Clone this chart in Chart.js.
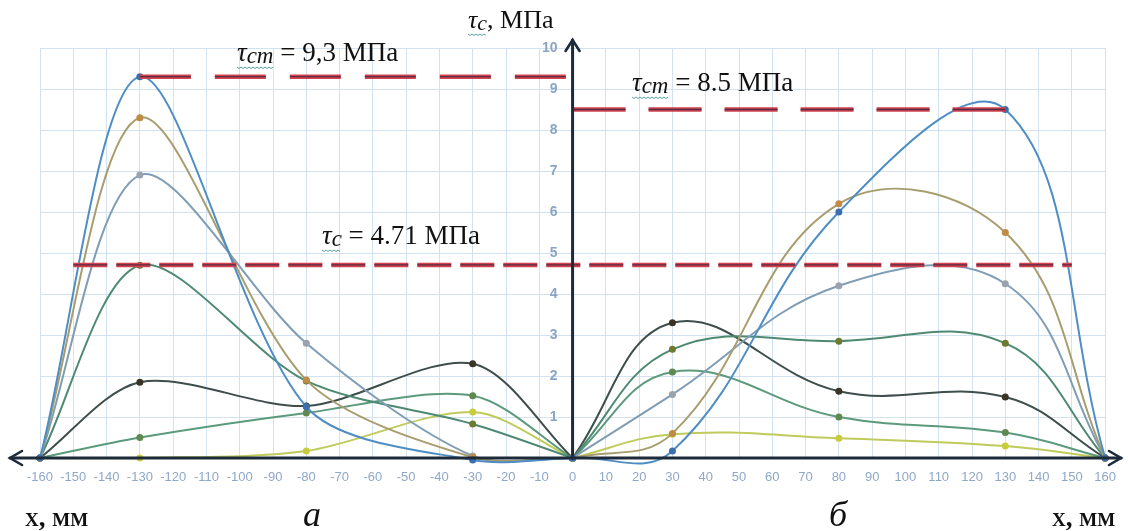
<!DOCTYPE html>
<html>
<head>
<meta charset="utf-8">
<script src="https://cdn.jsdelivr.net/npm/chart.js@4.4.1/dist/chart.umd.min.js"></script>
<style>
  html, body { margin: 0; padding: 0; background: #ffffff; }
  #wrap { width: 1128px; height: 531px; position: relative; }
</style>
</head>
<body>
<div id="wrap"><canvas id="c" width="1128" height="531"></canvas></div>
<script>
// ---------- DATA ----------
const xLeft  = [-160, -130, -80, -30, 0];
const xRight = [0, 30, 80, 130, 160];

const blueL   = [0, 9.3, 1.25, -0.05, 0];
const orangeL = [0, 8.3, 1.9, 0.02, 0];
const grayL   = [0, 6.9, 2.8, 0.05, 0];
const oliveL  = [0, 4.7, 1.88, 0.83, 0];
const brownL  = [0, 1.85, 1.27, 2.3, 0];
const greenL  = [0, 0.5, 1.1, 1.52, 0];
const yellowL = [0, 0, 0.17, 1.12, 0];

const blueR   = [0, 0.17, 6.0, 8.5, 0];
const orangeR = [0, 0.6, 6.2, 5.5, 0];
const grayR   = [0, 1.55, 4.2, 4.25, 0];
const oliveR  = [0, 2.65, 2.85, 2.8, 0];
const brownR  = [0, 3.3, 1.63, 1.49, 0];
const greenR  = [0, 2.1, 1.0, 0.62, 0];
const yellowR = [0, 0.58, 0.48, 0.29, 0];

// reference levels
const tauStLeft  = 9.3;  const tauStLeftRange  = [-130, 0];
const tauStRight = 8.5;  const tauStRightRange = [0, 130];
const tauC       = 4.71; const tauCRange       = [-150, 150];

const xTicks = [-160,-150,-140,-130,-120,-110,-100,-90,-80,-70,-60,-50,-40,-30,-20,-10,0,10,20,30,40,50,60,70,80,90,100,110,120,130,140,150,160];
const yTicks = [1,2,3,4,5,6,7,8,9,10];

// ---------- STYLES ----------
const seriesStyle = [
  { line: '#4f8ec4', point: '#3d6fae' },
  { line: '#a89d6e', point: '#c18a45' },
  { line: '#7f9db5', point: '#9aa3ad' },
  { line: '#4e8a72', point: '#6d7a30' },
  { line: '#3e4e4c', point: '#3a3424' },
  { line: '#5c9a7c', point: '#5e8a50' },
  { line: '#bfcb5a', point: '#c8cc3c' }
];
const leftSeries  = [blueL, orangeL, grayL, oliveL, brownL, greenL, yellowL];
const rightSeries = [blueR, orangeR, grayR, oliveR, brownR, greenR, yellowR];

function pts(xs, ys) { return xs.map((x, i) => ({ x: x, y: ys[i] })); }

function refLine(range, y, dash) {
  return [
    { data: [{x: range[0], y: y}, {x: range[1], y: y}], borderColor: '#5a2c44', borderWidth: 1.3,
      borderDash: dash, pointRadius: 0, fill: false, tension: 0, clip: false },
    { data: [{x: range[0], y: y}, {x: range[1], y: y}], borderColor: '#d2414e', borderWidth: 4.5,
      borderDash: dash, pointRadius: 0, fill: false, tension: 0, clip: false }
  ];
}

const datasets = [];
datasets.push(...refLine(tauStLeftRange, tauStLeft, [51, 24]));
datasets.push(...refLine(tauStRightRange, tauStRight, [53, 23]));
datasets.push(...refLine(tauCRange, tauC, [34, 9]));

function addSeries(xs, list, tension) {
  list.forEach((ys, i) => {
    const s = seriesStyle[i];
    datasets.push({
      data: pts(xs, ys),
      borderColor: s.line,
      borderWidth: 2,
      pointRadius: 3.5,
      pointBackgroundColor: s.point,
      pointBorderColor: s.point,
      pointBorderWidth: 0,
      tension: tension,
      capBezierPoints: false,
      fill: false,
      clip: false
    });
  });
}
addSeries(xLeft, leftSeries, 0.3);
addSeries(xRight, rightSeries, 0.4);

// ---------- PLUGINS ----------
const axesPlugin = {
  id: 'axesArrows',
  afterDatasetsDraw(chart) {
    const ctx = chart.ctx;
    const xs = chart.scales.x, ys = chart.scales.y;
    const y0 = ys.getPixelForValue(0);
    const x0 = xs.getPixelForValue(0);
    ctx.save();
    ctx.strokeStyle = '#1c2a3a';
    ctx.lineWidth = 3;
    ctx.lineCap = 'round';
    ctx.beginPath();
    ctx.moveTo(10, y0); ctx.lineTo(1121, y0);
    ctx.stroke();
    ctx.lineWidth = 2.6;
    ctx.beginPath();
    ctx.moveTo(22, y0 - 7); ctx.lineTo(10, y0); ctx.lineTo(22, y0 + 7);
    ctx.moveTo(1109, y0 - 7); ctx.lineTo(1121, y0); ctx.lineTo(1109, y0 + 7);
    ctx.stroke();
    ctx.lineWidth = 3;
    ctx.beginPath();
    ctx.moveTo(x0, y0); ctx.lineTo(x0, 40);
    ctx.stroke();
    ctx.lineWidth = 2.6;
    ctx.beginPath();
    ctx.moveTo(x0 - 7, 51); ctx.lineTo(x0, 40); ctx.lineTo(x0 + 7, 51);
    ctx.stroke();

    // y tick labels (left of the central axis)
    ctx.fillStyle = '#8aa4c4';
    ctx.font = 'bold 14px "Liberation Sans"';
    ctx.textAlign = 'right';
    ctx.textBaseline = 'middle';
    yTicks.forEach(v => ctx.fillText(String(v), x0 - 15, ys.getPixelForValue(v)));
    ctx.restore();
  },
  afterDraw(chart) {
    const ctx = chart.ctx;
    ctx.save();
    ctx.fillStyle = '#111111';
    ctx.textBaseline = 'alphabetic';
    function tauLabel(x, y, sub, rest, size) {
      ctx.font = 'italic ' + size + 'px "Liberation Serif"';
      ctx.fillText('τ', x, y);
      const w = ctx.measureText('τ').width;
      ctx.font = 'italic ' + Math.round(size * 0.85) + 'px "Liberation Serif"';
      ctx.fillText(sub, x + w, y + 2);
      const wsub = ctx.measureText(sub).width;
      ctx.save();
      ctx.strokeStyle = '#5aa0a8';
      ctx.lineWidth = 1;
      ctx.beginPath();
      for (let i = 0; i <= w + wsub; i += 2) {
        const yy = y + 6 + ((i / 2) % 2 === 0 ? 0 : 1.5);
        if (i === 0) ctx.moveTo(x + i, yy); else ctx.lineTo(x + i, yy);
      }
      ctx.stroke();
      ctx.restore();
      ctx.font = size + 'px "Liberation Serif"';
      ctx.fillText(rest, x + w + wsub, y);
    }
    tauLabel(237, 61, 'ст', ' = 9,3 МПа', 27);
    tauLabel(632, 91, 'ст', ' = 8.5 МПа', 27);
    tauLabel(322, 244, 'с', ' = 4.71 МПа', 27);
    tauLabel(468, 28, 'с', ', МПа', 26);

    ctx.font = 'small-caps bold 27px "Liberation Serif"';
    ctx.fillText('х, мм', 25, 526);
    ctx.fillText('х, мм', 1052, 526);

    ctx.font = 'italic 36px "Liberation Serif"';
    ctx.textAlign = 'center';
    ctx.fillText('а', 312, 526);
    ctx.fillText('б', 838, 526);
    ctx.restore();
  }
};

// ---------- CHART ----------
new Chart(document.getElementById('c'), {
  type: 'line',
  data: { datasets: datasets },
  options: {
    responsive: false,
    animation: false,
    devicePixelRatio: 1,
    layout: { padding: { left: 40, right: 21, top: 48, bottom: 73 } },
    plugins: { legend: { display: false }, tooltip: { enabled: false } },
    scales: {
      x: {
        type: 'linear',
        position: { y: 0 },
        min: xTicks[0], max: xTicks[xTicks.length - 1],
        afterBuildTicks: (axis) => { axis.ticks = xTicks.map(v => ({ value: v })); },
        ticks: {
          autoSkip: false, maxRotation: 0, padding: 12,
          color: '#8fa8c8',
          font: { family: '"Liberation Sans"', size: 13 },
          callback: (v) => String(v)
        },
        grid: { color: '#d3e2f0', lineWidth: 1, drawTicks: false },
        border: { display: false }
      },
      y: {
        type: 'linear',
        position: { x: 0 },
        min: 0, max: yTicks[yTicks.length - 1],
        afterBuildTicks: (axis) => { axis.ticks = [0].concat(yTicks).map(v => ({ value: v })); },
        ticks: { display: false },
        grid: { color: '#d3e2f0', lineWidth: 1, drawTicks: false },
        border: { display: false }
      }
    }
  },
  plugins: [axesPlugin]
});
</script>
</body>
</html>
